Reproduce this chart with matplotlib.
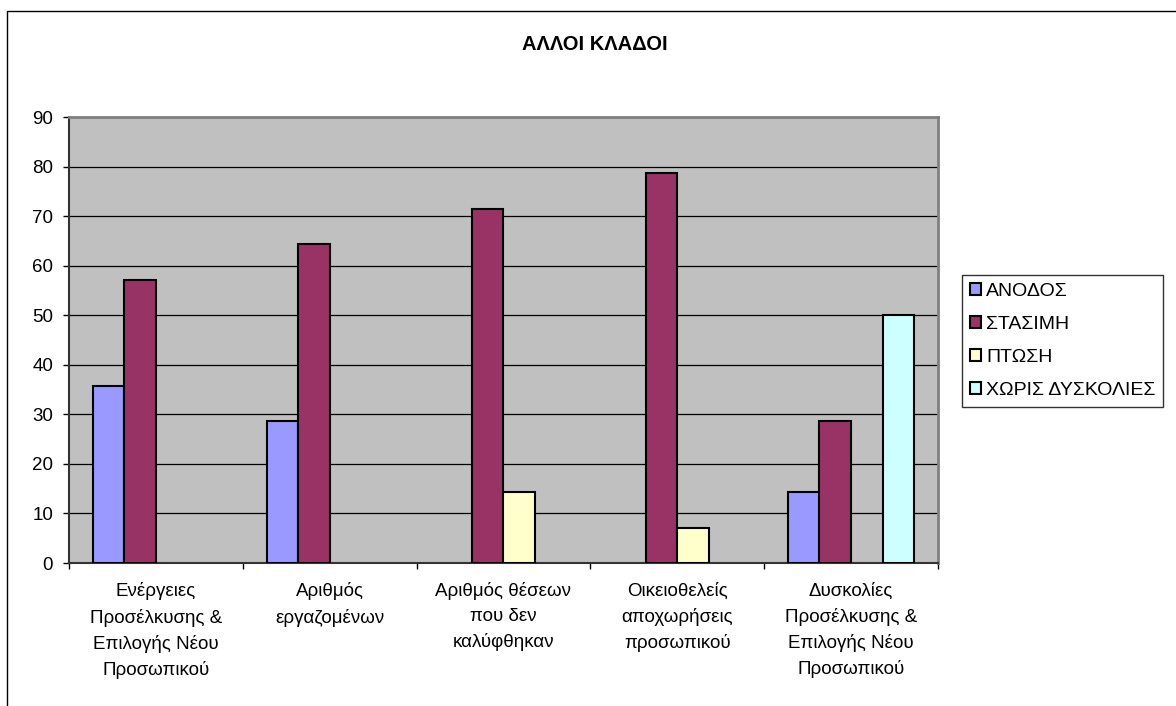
import matplotlib.pyplot as plt
import numpy as np
from matplotlib.patches import Rectangle, Patch

plt.rcParams['font.family'] = ['Liberation Sans', 'DejaVu Sans']

# δεδομένα
categories = ['Ενέργειες\nΠροσέλκυσης &\nΕπιλογής Νέου\nΠροσωπικού',
              'Αριθμός\nεργαζομένων',
              'Αριθμός θέσεων\nπου δεν\nκαλύφθηκαν',
              'Οικειοθελείς\nαποχωρήσεις\nπροσωπικού',
              'Δυσκολίες\nΠροσέλκυσης &\nΕπιλογής Νέου\nΠροσωπικού']
series_names = ['ΑΝΟΔΟΣ', 'ΣΤΑΣΙΜΗ', 'ΠΤΩΣΗ', 'ΧΩΡΙΣ ΔΥΣΚΟΛΙΕΣ']
anodos = [35.7, 28.6, 0, 0, 14.3]
stasimi = [57.1, 64.3, 71.4, 78.6, 28.6]
ptosi = [0, 0, 14.3, 7.1, 0]
xoris = [0, 0, 0, 0, 50.0]
colors = ['#9999FF', '#993366', '#FFFFCC', '#CCFFFF']

fig = plt.figure(figsize=(11.76, 7.06), dpi=100)
ax = fig.add_axes([69/1176, 1-563/706, (938-69)/1176, (563-117)/706])
ax.set_facecolor('#C0C0C0')

x = np.arange(len(categories))
w = 1/5.5
allvals = [anodos, stasimi, ptosi, xoris]
for i in range(4):
    vals = np.array(allvals[i])
    # μηδενικές τιμές δεν σχεδιάζονται
    lw = np.where(vals > 0, 1.5, 0)
    ax.bar(x + (i-1.5)*w, vals, width=w, color=colors[i],
           edgecolor='black', linewidth=lw, zorder=3)

ax.set_xlim(-0.5, 4.5)
ax.set_ylim(0, 90)
ax.set_yticks(range(0, 91, 10))
ax.yaxis.grid(True, color='black', linewidth=0.9, zorder=1)
ax.set_axisbelow(True)

ax.set_xticks(np.arange(-0.5, 5, 1))
ax.set_xticklabels([])
ax.set_xticks(x, minor=True)
ax.set_xticklabels(categories, minor=True, fontsize=13.5, linespacing=1.58)
ax.tick_params(axis='x', which='minor', length=0, pad=14)
ax.tick_params(axis='x', which='major', length=4.5, width=1, direction='out')
ax.tick_params(axis='y', length=4.5, width=1, direction='out', labelsize=13.5, pad=7)

for s in ['top', 'right']:
    ax.spines[s].set_color('#808080')
    ax.spines[s].set_linewidth(2)
for s in ['left', 'bottom']:
    ax.spines[s].set_color('#333333')
    ax.spines[s].set_linewidth(1.5)

fig.text(595/1176, 1-45/706, 'ΑΛΛΟΙ ΚΛΑΔΟΙ', ha='center', va='center',
         fontsize=14.5, fontweight='bold')

handles = [Patch(facecolor=colors[i], edgecolor='black', linewidth=1.5, label=series_names[i])
           for i in range(4)]
leg = fig.legend(handles=handles, loc='upper left', bbox_to_anchor=(962/1176, 1-275/706),
                 fontsize=14, frameon=True, fancybox=False, edgecolor='black',
                 handlelength=0.6, handleheight=0.6, handletextpad=0.25,
                 labelspacing=0.82, borderpad=0.4, borderaxespad=0)
leg.get_frame().set_linewidth(1)

# εξωτερικό πλαίσιο
fig.patches.append(Rectangle((7/1176, -0.1), 1.2, 1-11/706+0.1, transform=fig.transFigure,
                             fill=False, edgecolor='black', linewidth=1))

fig.savefig('out.png', dpi=100)
